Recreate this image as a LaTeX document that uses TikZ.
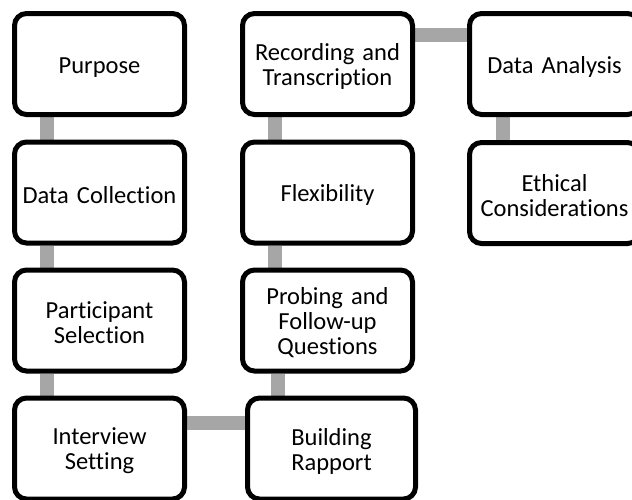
\documentclass[tikz,border=0pt]{standalone}
\usepackage{fontspec}
\setmainfont{Carlito}[Ligatures=NoCommon]
\usetikzlibrary{backgrounds}
\definecolor{linkgray}{HTML}{A6A6A6}
\tikzset{
  box/.style={draw=black, line width=5pt, rounded corners=12pt, fill=white,
    minimum width=170pt, minimum height=101pt, inner sep=0pt, align=center,
    text width=168pt, font=\fontsize{24.5}{25}\selectfont,
    execute at begin node={\rule{0pt}{22pt}}},
  link/.style={draw=linkgray, line width=14pt}
}
\begin{document}
\begin{tikzpicture}[x=1pt,y=-1pt]
\useasboundingbox (0,0) rectangle (632,499);
\clip (0,0) rectangle (632,499);
\node[box] (purpose) at (99.5,64) {Purpose};
\node[box] (datacol) at (99.5,192.5) {Data Collection};
\node[box] (partsel) at (99.5,320.5) {Participant\\Selection};
\node[box] (setting) at (99.5,448.5) {Interview\\Setting};
\node[box] (record) at (327.5,64) {Recording and\\Transcription};
\node[box] (flex) at (327.5,192.5) {Flexibility};
\node[box] (probe) at (327.5,320.5) {Probing and\\Follow-up\\Questions};
\node[box, minimum width=168pt] (rapport) at (331.5,448.5) {Building\\Rapport};
\node[box] (analysis) at (554.5,64) {Data Analysis};
\node[box] (ethics) at (554.5,193) {Ethical\\Considerations};
\begin{pgfonlayer}{background}
\draw[link] ([xshift=34.5pt]purpose.south west) -- ([xshift=34.5pt]datacol.north west);
\draw[link] ([xshift=34.5pt]datacol.south west) -- ([xshift=34.5pt]partsel.north west);
\draw[link] ([xshift=34.5pt]partsel.south west) -- ([xshift=34.5pt]setting.north west);
\draw[link] ([yshift=-27pt]setting.north east) -- ([yshift=-27pt]rapport.north west);
\draw[link] ([xshift=37.5pt]probe.south west) -- ([xshift=37.5pt]probe.south west |- rapport.north);
\draw[link] ([xshift=34.5pt]flex.south west) -- ([xshift=34.5pt]probe.north west);
\draw[link] ([xshift=34.5pt]record.south west) -- ([xshift=34.5pt]flex.north west);
\draw[link] ([yshift=-24pt]record.north east) -- ([yshift=-24pt]analysis.north west);
\draw[link] ([xshift=35.5pt]analysis.south west) -- ([xshift=35.5pt]ethics.north west);
\end{pgfonlayer}
\end{tikzpicture}
\end{document}
